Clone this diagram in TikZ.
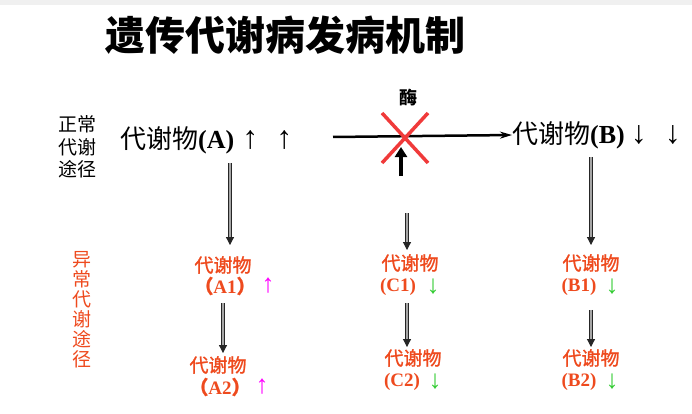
\documentclass[tikz,border=0pt]{standalone}
\usepackage{fontspec}
\setmainfont{Liberation Serif}
\newfontfamily\cjk{Noto Sans CJK SC}
\newfontfamily\cjkb[FakeBold=1.2]{Noto Sans CJK SC}
\usetikzlibrary{arrows.meta,calc}
\definecolor{orred}{HTML}{EE4A1E}
\definecolor{mag}{HTML}{FF00FF}
\definecolor{grn}{HTML}{33CC33}
\definecolor{xred}{HTML}{F03A3A}

\begin{document}
\begin{tikzpicture}[x=1pt,y=-1pt,
    main/.style={inner sep=0pt,font=\fontsize{26}{28}\selectfont},
    subc/.style={inner sep=0pt,text=orred,font=\cjkb\fontsize{19}{20}\selectfont},
    subn/.style={inner sep=0pt,text=orred,font=\bfseries\fontsize{19}{20}\selectfont},
    tick/.style={inner sep=0pt,font=\fontsize{26}{26}\selectfont},
    flow/.style={-{Triangle[width=8pt,length=8pt]},draw=black!85,double=gray!70,
      double distance=1.6pt,line width=1.1pt}]
  \useasboundingbox (0,0) rectangle (692,414);
  \fill[gray!12] (0,0) rectangle (692,5);
  \node[font=\cjk\bfseries\fontsize{40}{40}\selectfont] (title) at (285,35) {遗传代谢病发病机制};
  % normal pathway
  \node[align=center,font=\cjk\fontsize{19}{22.5}\selectfont] (norm) at (77,147) {正常\\代谢\\途径};
  \node[main,anchor=west] (A) at (120,140) {{\cjk 代谢物}\textbf{(A)}\hspace{8pt}{\fontsize{32}{32}\selectfont↑\hspace{18pt}↑}};
  \node[main,anchor=west] (B) at (512,135) {{\cjk 代谢物}\textbf{(B)}\hspace{6pt}{\fontsize{32}{32}\selectfont↓\hspace{18pt}↓}};
  \coordinate (s) at (333,137);
  \draw[-{Stealth[length=12pt,width=7pt]},line width=2.5pt] (s) -- (B.west);
  \coordinate (enz) at (405,137);
  \node[font=\cjk\bfseries\fontsize{18}{20}\selectfont] (mei) at (408,98) {酶};
  \draw[xred,line width=3.5pt] ($(enz)+(-23,-24)$) -- ($(enz)+(23,26)$);
  \draw[xred,line width=3.5pt] ($(enz)+(23,-24)$) -- ($(enz)+(-23,26)$);
  \draw[-{Triangle[width=12pt,length=10pt]},line width=4pt] ($(enz)+(-4,39)$) -- ($(enz)+(-4,10)$);
  % abnormal pathway
  \node[align=center,text=orred,font=\cjk\fontsize{19}{20}\selectfont] (abn) at (82,310) {异\\常\\代\\谢\\途\\径};
  \node[subc] (a1) at (223,265) {代谢物};
  \node[subn] (a1n) at (225,286) {{\cjkb （}A1{\cjkb ）}};
  \node[tick,text=mag] (a1t) at (268,286) {↑};
  \node[subc] (a2) at (218,365) {代谢物};
  \node[subn] (a2n) at (220,387) {{\cjkb （}A2{\cjkb ）}};
  \node[tick,text=mag] (a2t) at (262,387) {↑};
  \node[subc] (c1) at (410,263) {代谢物};
  \node[subn] (c1n) at (398,287) {(C1)};
  \node[tick,text=grn] (c1t) at (433,287) {↓};
  \node[subc] (c2) at (413,358) {代谢物};
  \node[subn] (c2n) at (402,382) {(C2)};
  \node[tick,text=grn] (c2t) at (435,382) {↓};
  \node[subc] (b1) at (591,263) {代谢物};
  \node[subn] (b1n) at (579,287) {(B1)};
  \node[tick,text=grn] (b1t) at (612,287) {↓};
  \node[subc] (b2) at (591,358) {代谢物};
  \node[subn] (b2n) at (579,382) {(B2)};
  \node[tick,text=grn] (b2t) at (612,382) {↓};
  % conversions
  \draw[flow] ($(A.south -| a1.north)+(7,9)$) -- ($(a1.north)+(7,-11)$);
  \draw[flow] ($(a1n.south -| a1.north)+(0,8)$) -- ($(a2.north)+(5,-3)$);
  \draw[flow] ($(c1.north)+(-3,-41)$) -- ($(c1.north)+(-3,-4)$);
  \draw[flow] ($(c1n.south)+(9,7)$) -- ($(c2.north)+(-6,-2)$);
  \draw[flow] ($(B.south -| b1.north)+(0,8)$) -- ($(b1.north)+(0,-9)$);
  \draw[flow] ($(b1n.south)+(12,14)$) -- ($(b2.north)+(0,-2)$);
\end{tikzpicture}
\end{document}
